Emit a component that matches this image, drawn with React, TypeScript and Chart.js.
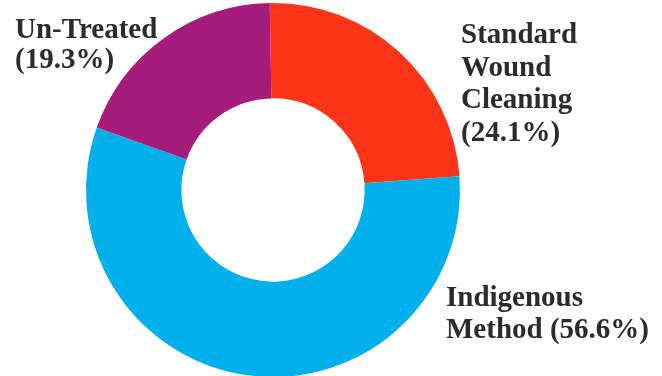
import React, { useEffect, useRef } from "react";
import { Chart, registerables } from "chart.js";

Chart.register(...registerables);

const categories = ["Standard Wound Cleaning", "Indigenous Method", "Un-Treated"];
const shares = [24.1, 56.6, 19.3];
const sliceColors = ["#FE3419", "#02B1EC", "#A51C7C"];
const labelLines = [
  ["Standard", "Wound", "Cleaning", "(24.1%)"],
  ["Indigenous", "Method (56.6%)"],
  ["Un-Treated", "(19.3%)"],
];

// label layout (pixel positions for the annotation text)
const labelAnchors = [
  { x: 461, y: 43, lh: 32.7 },
  { x: 446, y: 306, lh: 32 },
  { x: 15, y: 38, lh: 30 },
];

const labelPlugin = {
  id: "sliceLabels",
  afterDraw(chart: any) {
    const ctx = chart.ctx;
    ctx.save();
    ctx.fillStyle = "#2b2b2b";
    ctx.font = "bold 29px 'Liberation Serif', 'DejaVu Serif', serif";
    ctx.textBaseline = "alphabetic";
    ctx.textAlign = "left";
    labelLines.forEach((lines, i) => {
      const a = labelAnchors[i];
      lines.forEach((ln, j) => ctx.fillText(ln, a.x, a.y + j * a.lh));
    });
    ctx.restore();
  },
};

export default function App() {
  const ref = useRef<HTMLCanvasElement | null>(null);
  useEffect(() => {
    if (!ref.current) return;
    const chart = new Chart(ref.current, {
      type: "doughnut",
      data: {
        labels: categories,
        datasets: [
          {
            data: shares,
            backgroundColor: sliceColors,
            borderWidth: 0,
          },
        ],
      },
      options: {
        animation: false,
        responsive: false,
        maintainAspectRatio: false,
        cutout: "49%",
        rotation: -1,
        layout: { padding: { left: 0, right: 116, top: 3, bottom: 3 } },
        plugins: {
          legend: { display: false },
          tooltip: { enabled: false },
        },
      },
      plugins: [labelPlugin],
    });
    return () => chart.destroy();
  }, []);
  return (
    <div style={{ position: "fixed", left: 0, top: 0, width: 662, height: 380, background: "#fff" }}>
      <canvas ref={ref} width={662} height={380} style={{ width: 662, height: 380, display: "block" }} />
    </div>
  );
}
